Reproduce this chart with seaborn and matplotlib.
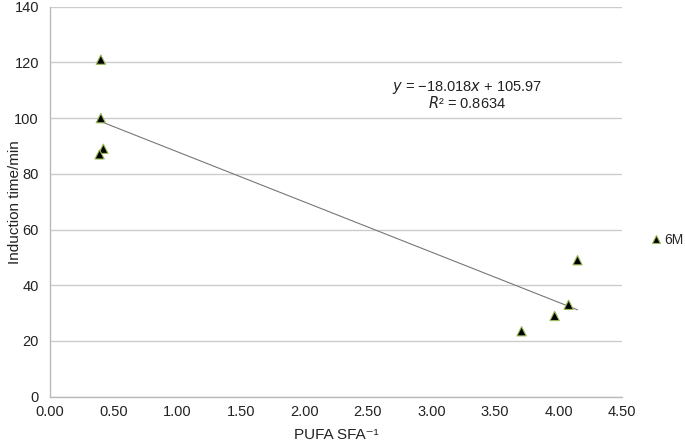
import numpy as np
import pandas as pd
import matplotlib
matplotlib.use("Agg")
import matplotlib.pyplot as plt
import seaborn as sns

pufa_sfa = [0.40, 0.40, 0.42, 0.39, 3.71, 3.97, 4.08, 4.15]
induction_time = [121, 100, 89, 87, 23.5, 29, 33, 49]
series = ["6M"] * len(pufa_sfa)
slope, intercept, r2 = -18.018, 105.97, 0.8634
x_ticks = [0.0, 0.5, 1.0, 1.5, 2.0, 2.5, 3.0, 3.5, 4.0, 4.5]
y_ticks = [0, 20, 40, 60, 80, 100, 120, 140]

df = pd.DataFrame({"x": pufa_sfa, "y": induction_time, "s": series})

sns.set_theme(style="white")
plt.rcParams['font.family'] = ['Liberation Sans', 'DejaVu Sans']

fig = plt.figure(figsize=(6.85, 4.44), dpi=100)
ax = fig.add_axes([50/685, 1-396.7/444, 572/685, 390/444])

ax.yaxis.grid(True, color="#cccccc", linewidth=1)
ax.set_axisbelow(True)

# trend line
xl = np.array([min(pufa_sfa), max(pufa_sfa)])
ax.plot(xl, slope * xl + intercept, color="#777777", linewidth=0.8, zorder=2)

sns.scatterplot(data=df, x="x", y="y", hue="s", palette=["black"], marker="^",
                s=45, edgecolor="#9bbb59", linewidth=0.8, ax=ax, zorder=3)

ax.set_xlim(0, 4.5)
ax.set_ylim(0, 140)
ax.set_xticks(x_ticks)
ax.set_xticklabels([f"{t:.2f}" for t in x_ticks])
ax.set_yticks(y_ticks)
ax.tick_params(axis="x", length=0, labelsize=10.5, colors="#222222", pad=6)
ax.tick_params(axis="y", length=0, labelsize=10.5, colors="#222222", pad=8)
for side in ["top", "right"]:
    ax.spines[side].set_visible(False)
for side in ["left", "bottom"]:
    ax.spines[side].set_color("#bbbbbb")
    ax.spines[side].set_linewidth(1)

ax.set_xlabel("PUFA SFA\u207b\u00b9", fontsize=11, color="#222222", va="center")
ax.set_ylabel("Induction time/min", fontsize=11, color="#222222", va="center")
ax.xaxis.set_label_coords(0.5, -38 / 390)
ax.yaxis.set_label_coords(-35 / 572, 0.5)

ax.text(3.28, 110.9, "$y$ = \u221218.018$x$ + 105.97", fontsize=10.5, ha="center", va="center", color="#222222")
ax.text(3.28, 105.3, "$R$\u00b2 = 0.8634", fontsize=10.5, ha="center", va="center", color="#222222")

leg = ax.legend(loc="center left", bbox_to_anchor=(649/685, 1-240/444),
                bbox_transform=fig.transFigure, frameon=False, borderpad=0,
                borderaxespad=0, fontsize=10, handletextpad=0.1,
                handlelength=1.0, markerscale=0.8)

fig.savefig("out.png", dpi=100)
